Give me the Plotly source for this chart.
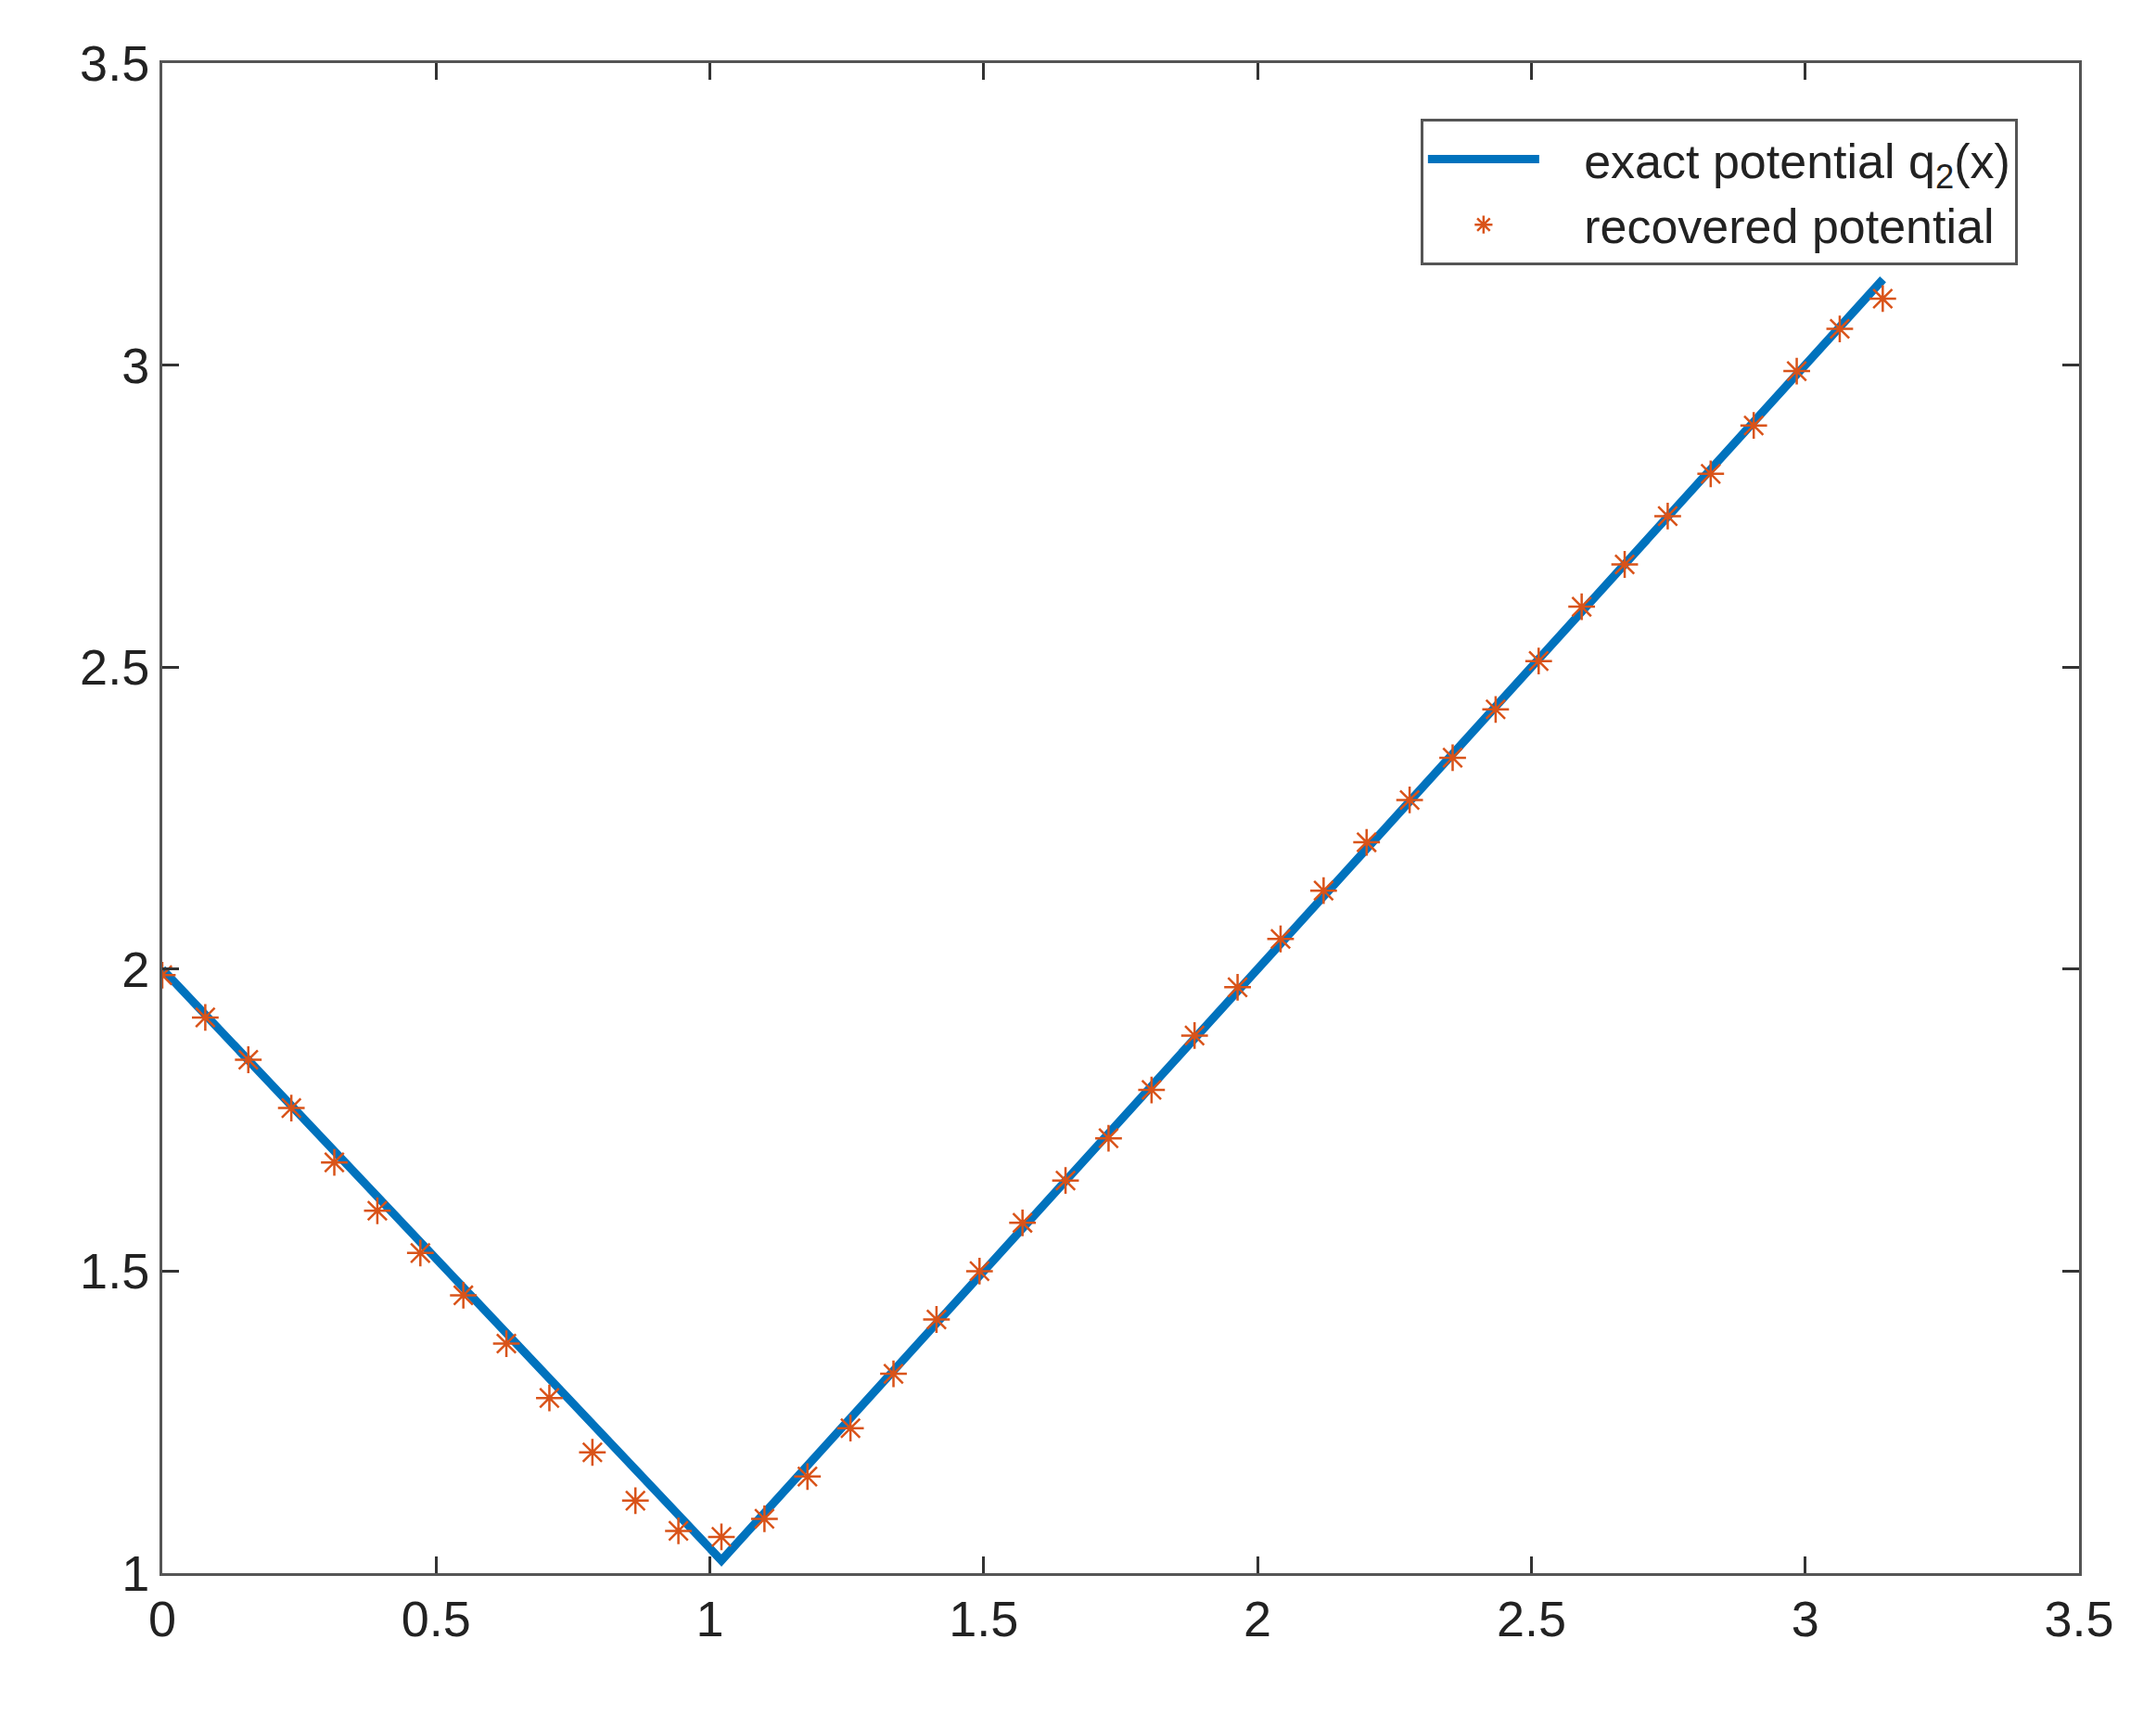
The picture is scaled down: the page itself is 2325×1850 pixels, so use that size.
import plotly.graph_objects as go

x_grid = [k * 3.14159265 / 40 for k in range(41)]
exact_x = [0.0, 1.021, 3.142]
exact_q = [2.0, 1.021, 3.142]
recovered_q = [1.99, 1.92, 1.85, 1.77, 1.68, 1.60, 1.53, 1.46, 1.38, 1.29, 1.20,
               1.12, 1.07, 1.06, 1.09, 1.16, 1.24, 1.33, 1.42, 1.50, 1.58,
               1.65, 1.72, 1.80, 1.89, 1.97, 2.05, 2.13, 2.21, 2.28, 2.35,
               2.43, 2.51, 2.60, 2.67, 2.75, 2.82, 2.90, 2.99, 3.06, 3.11]
ticks = [0, 0.5, 1, 1.5, 2, 2.5, 3, 3.5]
yticks = [1, 1.5, 2, 2.5, 3, 3.5]

fig = go.Figure()
fig.add_trace(go.Scatter(x=exact_x, y=exact_q, mode="lines",
                         name="\u00a0\u00a0\u00a0exact potential q<sub>2</sub>(x)",
                         line=dict(color="#0072BD", width=9)))
fig.add_trace(go.Scatter(x=x_grid, y=recovered_q, mode="markers",
                         name="\u00a0\u00a0\u00a0recovered potential",
                         marker=dict(symbol="asterisk-open", size=24, color="#D95319",
                                     line=dict(color="#D95319", width=2.5))))
ax = dict(showgrid=False, zeroline=False, showline=True, linecolor="#555", linewidth=3,
          mirror="ticks", ticks="inside", ticklen=18, tickwidth=3, tickcolor="#333",
          tickfont=dict(size=54, color="#222"))
fig.update_layout(
    width=2325, height=1850, plot_bgcolor="white", paper_bgcolor="white",
    font=dict(family="Liberation Sans, Arial", color="#222"),
    margin=dict(l=167, r=91, t=60, b=162),
    xaxis=dict(range=[0, 3.5], tickvals=ticks, ticktext=[str(t) for t in ticks], **ax),
    yaxis=dict(range=[1, 3.5], tickvals=yticks, ticktext=[str(t) for t in yticks], **ax),
    legend=dict(x=0.968, y=0.963, xanchor="right", yanchor="top", bgcolor="white",
                bordercolor="#555", borderwidth=3, font=dict(size=52, color="#222"),
                itemwidth=120, tracegroupgap=20),
    showlegend=True,
)
fig.write_html("out.html")
